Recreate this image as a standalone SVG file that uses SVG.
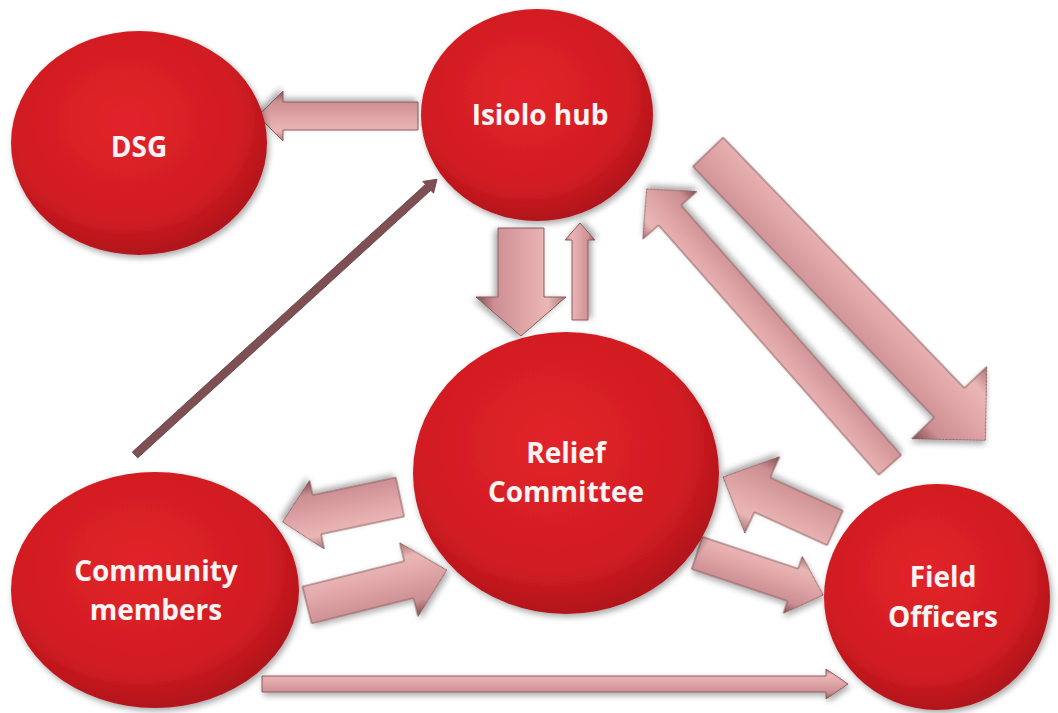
<svg xmlns="http://www.w3.org/2000/svg" width="1058" height="713" viewBox="0 0 1058 713">
<defs>
<radialGradient id="red" cx="0.45" cy="0.4" r="0.6">
<stop offset="0" stop-color="#e2242a"/>
<stop offset="0.75" stop-color="#d01c22"/>
<stop offset="1" stop-color="#b0141a"/>
</radialGradient>
<linearGradient id="pink" x1="0" y1="0" x2="0" y2="1">
<stop offset="0" stop-color="#a87474"/>
<stop offset="0.2" stop-color="#ebb6b6"/>
<stop offset="0.45" stop-color="#e0a6a8"/>
<stop offset="0.8" stop-color="#cc8e92"/>
<stop offset="1" stop-color="#7e4e50"/>
</linearGradient>
<filter id="sh" x="-10%" y="-10%" width="130%" height="130%">
<feGaussianBlur in="SourceAlpha" stdDeviation="3"/>
<feOffset dx="2" dy="3" result="b"/>
<feComponentTransfer><feFuncA type="linear" slope="0.35"/></feComponentTransfer>
<feMerge><feMergeNode/><feMergeNode in="SourceGraphic"/></feMerge>
</filter>
<style>
.node{fill:url(#red);filter:url(#sh)}
.lbl{font-family:"Open Sans","Liberation Sans",sans-serif;font-weight:bold;font-size:28px;fill:#fff4f4;text-anchor:middle}
.arr{fill:url(#pink);stroke:#8a5c5e;stroke-width:1;filter:url(#sh)}
.thin{fill:#7e5054;stroke:#6a4043;stroke-width:0.8}
</style>
</defs>
<rect width="1058" height="713" fill="#ffffff"/>
<g id="connectors">
<!-- Isiolo -> DSG -->
<polygon class="arr" transform="translate(418,116) rotate(180)" points="0,-14 135,-14 135,-25 160,0 135,25 135,14 0,14"/>
<!-- Isiolo -> Relief -->
<polygon class="arr" transform="translate(521,228) rotate(90)" points="0,-23 69,-23 69,-45 108,0 69,45 69,23 0,23"/>
<!-- Relief -> Isiolo small -->
<polygon class="arr" transform="translate(580,320) rotate(-90)" points="0,-8 80,-8 80,-15 97,0 80,15 80,8 0,8"/>
<!-- Isiolo -> Field big -->
<polygon class="arr" transform="translate(708,152) rotate(46.1)" points="0,-21 348,-21 348,-52 400,0 348,52 348,21 0,21"/>
<!-- Field -> Isiolo -->
<polygon class="arr" transform="translate(890,465) rotate(-131.4)" points="0,-15 333,-15 333,-36 368,0 333,36 333,15 0,15"/>
<!-- Relief -> Community -->
<polygon class="arr" transform="translate(400,497) rotate(168)" points="0,-20 85,-20 85,-35 120,0 85,35 85,20 0,20"/>
<!-- Community -> Relief -->
<polygon class="arr" transform="translate(307,605) rotate(-14)" points="0,-19 105,-19 105,-38 144,0 105,38 105,19 0,19"/>
<!-- Field -> Relief -->
<polygon class="arr" transform="translate(835,528) rotate(204.5)" points="0,-19 80,-19 80,-42 123,0 80,42 80,19 0,19"/>
<!-- Relief -> Field -->
<polygon class="arr" transform="translate(697,553) rotate(18.4)" points="0,-17 101,-17 101,-30 133,0 101,30 101,17 0,17"/>
<!-- Community -> Field bottom -->
<polygon class="arr" transform="translate(262,684)" points="0,-8 564,-8 564,-15 586,0 564,15 564,8 0,8"/>
<!-- Community -> Isiolo thin -->
<polygon class="thin" transform="translate(135,455) rotate(-42.4)" points="0,-4 397,-4 397,-8 409,0 397,8 397,4 0,4"/>
</g>
<g id="dsg">
<ellipse class="node" cx="139" cy="143" rx="128" ry="112"/>
<text class="lbl" x="139" y="157">DSG</text>
</g>
<g id="isiolo">
<ellipse class="node" cx="537" cy="115" rx="116" ry="106"/>
<text class="lbl" x="540" y="125">Isiolo hub</text>
</g>
<g id="relief">
<ellipse class="node" cx="566" cy="473" rx="153" ry="141"/>
<text class="lbl" x="566" y="463">Relief</text>
<text class="lbl" x="566" y="502">Committee</text>
</g>
<g id="community">
<ellipse class="node" cx="155" cy="590" rx="144" ry="118"/>
<text class="lbl" x="156" y="581">Community</text>
<text class="lbl" x="156" y="620">members</text>
</g>
<g id="field">
<ellipse class="node" cx="937" cy="597" rx="113" ry="113"/>
<text class="lbl" x="943" y="587">Field</text>
<text class="lbl" x="943" y="627">Officers</text>
</g>
</svg>
